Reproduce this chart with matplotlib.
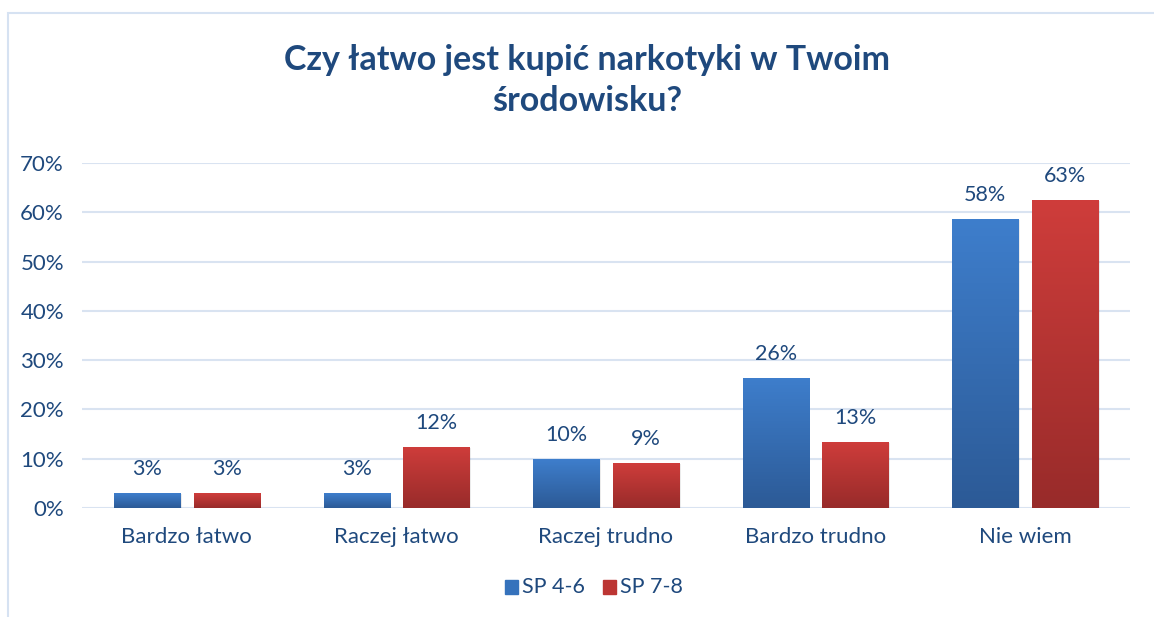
import numpy as np
import matplotlib.pyplot as plt
from matplotlib.patches import Rectangle

categories = ["Bardzo łatwo", "Raczej łatwo", "Raczej trudno", "Bardzo trudno", "Nie wiem"]
sp46 = [3.0, 3.0, 9.9, 26.4, 58.6]
sp78 = [3.0, 12.4, 9.1, 13.4, 62.5]
labels46 = ["3%", "3%", "10%", "26%", "58%"]
labels78 = ["3%", "12%", "9%", "13%", "63%"]
series_names = ["SP 4-6", "SP 7-8"]

TXT = "#1F497D"
GRID = "#D9E3F1"
plt.rcParams["font.family"] = ["Lato", "DejaVu Sans"]


def gradient_bars(ax, bars, top, bottom):
    cmap = plt.matplotlib.colors.LinearSegmentedColormap.from_list("g", [bottom, top])
    grad = np.linspace(0, 1, 256).reshape(-1, 1)
    for b in bars:
        x, y = b.get_x(), b.get_y()
        w, h = b.get_width(), b.get_height()
        # soft shadow
        ax.add_patch(Rectangle((x + 0.008, y - 0.25), w, h, color="#000000",
                               alpha=0.08, zorder=2, lw=0))
        b.set_facecolor("none")
        im = ax.imshow(grad, cmap=cmap, origin="lower", aspect="auto",
                       extent=[x, x + w, y, y + h], zorder=3)
        im.set_clip_path(b)


fig = plt.figure(figsize=(11.54, 6.17), dpi=100)
ax = fig.add_axes([82 / 1154, 1 - 508 / 617, (1130 - 82) / 1154, (508 - 163) / 617])

xs = np.arange(len(categories))
bw = 0.315
off = 0.19
b1 = ax.bar(xs - off, sp46, bw, zorder=3, lw=0)
b2 = ax.bar(xs + off, sp78, bw, zorder=3, lw=0)
gradient_bars(ax, b1, "#3E7ECC", "#2C5A96")
gradient_bars(ax, b2, "#CF3D3B", "#982B2A")

for x, v, t in zip(xs - off, sp46, labels46):
    ax.text(x, v + 4.9, t, ha="center", va="center", color=TXT, fontsize=15.5)
for x, v, t in zip(xs + off, sp78, labels78):
    ax.text(x, v + 4.9, t, ha="center", va="center", color=TXT, fontsize=15.5)

ax.set_xlim(-0.5, len(categories) - 0.5)
ax.set_ylim(0, 70)
ax.set_yticks(np.arange(0, 71, 10))
ax.set_yticklabels([f"{v}%" for v in range(0, 71, 10)])
ax.set_xticks(xs)
ax.set_xticklabels(categories)
ax.tick_params(length=0, labelsize=16, colors=TXT)
ax.tick_params(axis="y", pad=13)
ax.tick_params(axis="x", pad=14)
ax.grid(axis="y", color=GRID, lw=1.5, zorder=0)
ax.set_axisbelow(True)
for s in ax.spines.values():
    s.set_visible(False)

fig.text(0.509, 1 - 60 / 617, "Czy łatwo jest kupić narkotyki w Twoim",
         ha="center", va="center", fontsize=24.5, fontweight="bold", color=TXT)
fig.text(0.509, 1 - 101 / 617, "środowisku?",
         ha="center", va="center", fontsize=24.5, fontweight="bold", color=TXT)

# legend
ly = 1 - 587 / 617
fig.patches.append(Rectangle((505 / 1154, ly - 7 / 617), 13 / 1154, 14 / 617,
                             transform=fig.transFigure, color="#3572BC"))
fig.text(522 / 1154, ly, series_names[0], va="center", color=TXT, fontsize=15.5)
fig.patches.append(Rectangle((603 / 1154, ly - 7 / 617), 13 / 1154, 14 / 617,
                             transform=fig.transFigure, color="#BC3533"))
fig.text(620 / 1154, ly, series_names[1], va="center", color=TXT, fontsize=15.5)

# chart border
fig.patches.append(Rectangle((8 / 1154, -0.1), 1.2, 1.1 - 13 / 617,
                             transform=fig.transFigure, fill=False,
                             edgecolor="#D6E2F2", lw=1.5))

fig.savefig("out.png", dpi=100, facecolor="white")
